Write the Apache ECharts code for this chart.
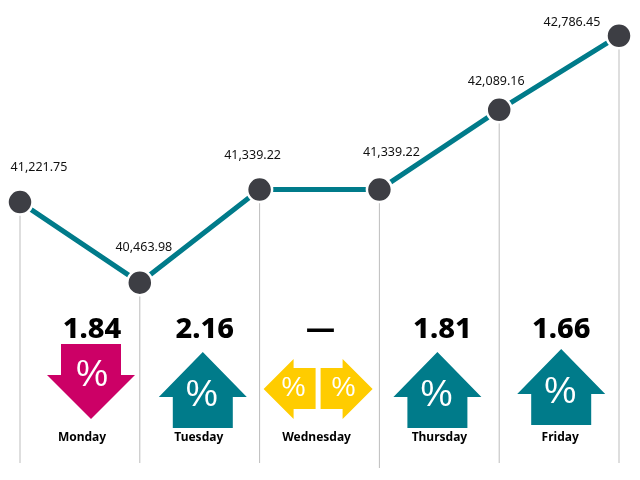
<!DOCTYPE html>
<html lang="en">
<head>
    <meta charset="UTF-8">
    <title>Weekly index closes</title>
    <style>
        html, body { margin: 0; padding: 0; background: #fff; }
    </style>
</head>
<body>
<div id="main" style="width: 640px;height:480px;"></div>

<script src="https://cdn.jsdelivr.net/npm/echarts@6/dist/echarts.min.js"></script>
<script>
    // six closes, first one is the previous week's close
    var points = ['Prev', 'Mon', 'Tue', 'Wed', 'Thu', 'Fri'];
    var closes = [41221.75, 40463.98, 41339.22, 41339.22, 42089.16, 42786.45];
    var days = ['Monday', 'Tuesday', 'Wednesday', 'Thursday', 'Friday'];
    var changes = ['1.84', '2.16', '—', '1.81', '1.66'];
    var moves = ['down', 'up', 'flat', 'up', 'up'];

    // layout, in pixels relative to the point each column starts from
    var labelOffsets = [[19, -35], [4, -35], [-7, -34], [12, -37], [-3, -28], [-47, -13]];
    var arrowShift = [71, 63, 58, 58, 62];
    var arrowTop = [344, 352, 359, 352, 349];
    var numberShift = [72, 65, 61, 63, 62];
    var dayShift = [62, 59, 57, 60, 61];
    var lineEnds = [463, 463, 463, 468, 463, 463];

    var TEAL = '#007b8a', PINK = '#cc0066', YELLOW = '#ffcc00';

    function percent(x, y, size) {
        return {
            type: 'text',
            style: {
                x: x, y: y, text: '%', fill: '#fff',
                font: size + 'px "Liberation Sans"',
                align: 'center', verticalAlign: 'middle'
            }
        };
    }

    function poly(pts, color) {
        return { type: 'polygon', shape: { points: pts }, style: { fill: color } };
    }

    function arrowParts(move, x, top) {
        if (move == 'down') {
            return [
                poly([[x - 30, top], [x + 30, top], [x + 30, top + 31], [x + 44, top + 31],
                    [x, top + 75], [x - 44, top + 31], [x - 30, top + 31]], PINK),
                percent(x + 1, top + 32, 36)
            ];
        }
        if (move == 'up') {
            return [
                poly([[x, top], [x + 44, top + 45], [x + 30, top + 45], [x + 30, top + 76],
                    [x - 30, top + 76], [x - 30, top + 45], [x - 44, top + 45]], TEAL),
                percent(x - 1, top + 44, 36)
            ];
        }
        // no change: a pair of yellow arrows pointing apart
        var m = top + 30;
        return [
            poly([[x - 2, m - 21], [x - 24, m - 21], [x - 24, m - 30], [x - 54, m],
                [x - 24, m + 30], [x - 24, m + 20], [x - 2, m + 20]], YELLOW),
            poly([[x + 3, m - 21], [x + 25, m - 21], [x + 25, m - 30], [x + 55, m],
                [x + 25, m + 30], [x + 25, m + 20], [x + 3, m + 20]], YELLOW),
            percent(x - 24, m, 27),
            percent(x + 26, m, 27)
        ];
    }

    var myChart = echarts.init(document.getElementById('main'));

    var option = {
        animation: false,
        grid: { left: 20, right: 21, top: 13, bottom: 148 },
        xAxis: { type: 'category', data: points, boundaryGap: false, show: false },
        yAxis: { type: 'value', min: 40000, max: 43000, show: false },
        series: [
            {
                // thin vertical lines under each point
                type: 'custom',
                z: 1,
                data: closes.map(function (v, i) { return [i, v]; }),
                renderItem: function (params, api) {
                    var p = api.coord([api.value(0), api.value(1)]);
                    return {
                        type: 'line',
                        shape: { x1: p[0], y1: p[1], x2: p[0], y2: lineEnds[params.dataIndex] },
                        style: { stroke: '#bdbdbd', lineWidth: 1 }
                    };
                }
            },
            {
                type: 'line',
                z: 3,
                data: closes.map(function (v, i) {
                    return { value: v, label: { offset: labelOffsets[i] } };
                }),
                symbol: 'circle',
                symbolSize: 25,
                showSymbol: true,
                lineStyle: { color: TEAL, width: 5, cap: 'butt' },
                itemStyle: { color: '#3d3e44', borderColor: '#fff', borderWidth: 2.5 },
                label: {
                    show: true,
                    position: 'inside',
                    align: 'center',
                    verticalAlign: 'middle',
                    color: '#111',
                    fontFamily: 'Noto Sans',
                    fontSize: 12.5,
                    formatter: function (p) {
                        return echarts.format.addCommas(p.value.toFixed(2));
                    }
                }
            },
            {
                // arrows, change figures and day names, one column per day
                type: 'custom',
                z: 2,
                data: days.map(function (d, i) { return [i, closes[i]]; }),
                renderItem: function (params, api) {
                    var i = params.dataIndex;
                    var x = api.coord([api.value(0), api.value(1)])[0];
                    var parts = arrowParts(moves[i], x + arrowShift[i], arrowTop[i]);
                    parts.push({
                        type: 'text',
                        style: {
                            x: x + numberShift[i], y: 330, text: changes[i], fill: '#000',
                            font: '800 29px "Noto Sans"', align: 'center', verticalAlign: 'middle'
                        }
                    });
                    parts.push({
                        type: 'text',
                        style: {
                            x: x + dayShift[i], y: 438, text: days[i], fill: '#000',
                            font: 'bold 12px "Noto Sans"', align: 'center', verticalAlign: 'middle'
                        }
                    });
                    return { type: 'group', children: parts };
                }
            }
        ]
    };

    myChart.setOption(option);
</script>
</body>
</html>
